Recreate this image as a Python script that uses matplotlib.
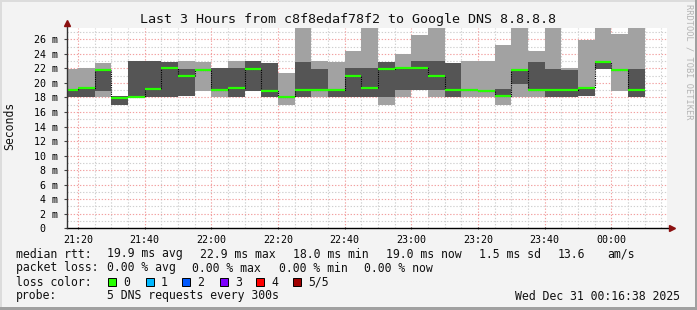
import matplotlib
matplotlib.use("Agg")
import matplotlib.pyplot as plt
from matplotlib.patches import Rectangle
from matplotlib.transforms import ScaledTranslation

plt.rcParams['font.family'] = ['DejaVu Sans Mono', 'DejaVu Sans']

# ---------------- data ----------------
title = "Last 3 Hours from c8f8edaf78f2 to Google DNS 8.8.8.8"
window = ("21:16:38", "00:16:38")
step_minutes = 5

slot_start = ["21:15", "21:20", "21:25", "21:30", "21:35", "21:40", "21:45",
              "21:50", "21:55", "22:00", "22:05", "22:10", "22:15", "22:20",
              "22:25", "22:30", "22:35", "22:40", "22:45", "22:50", "22:55",
              "23:00", "23:05", "23:10", "23:15", "23:20", "23:25", "23:30",
              "23:35", "23:40", "23:45", "23:50", "23:55", "00:00", "00:05"]

# sorted pings per slot (ms): lowest, 2nd, median, 4th, highest
ping_1 = [18.0, 18.1, 18.0, 17.0, 18.05, 18.0, 18.0, 18.15, 18.93, 18.0, 18.1, 18.95,
          18.0, 17.0, 18.1, 18.0, 18.0, 18.0, 18.0, 17.0, 18.0, 19.0, 18.0, 18.1,
          18.0, 18.0, 17.0, 18.0, 18.0, 18.0, 18.0, 18.2, 21.9, 18.9, 18.0]
ping_2 = [18.0, 18.1, 18.93, 17.0, 18.05, 18.0, 18.0, 18.25, 21.8, 19.0, 18.1, 18.95,
          18.0, 18.1, 18.1, 19.0, 18.0, 18.0, 18.0, 18.0, 19.0, 19.0, 19.0, 18.1,
          19.0, 18.85, 18.1, 19.9, 19.0, 18.0, 18.0, 18.2, 21.9, 21.8, 18.0]
ping_median = [19.0, 19.25, 21.8, 17.96, 18.1, 19.2, 22.0, 20.95, 21.8, 19.0, 19.25, 21.85,
               18.9, 18.1, 19.0, 19.0, 19.0, 20.9, 19.25, 21.95, 22.0, 22.0, 20.9, 19.0,
               19.0, 18.85, 18.2, 21.8, 19.0, 19.0, 19.0, 19.25, 22.9, 21.8, 19.0]
ping_4 = [19.0, 19.25, 21.8, 18.2, 23.0, 23.0, 22.9, 21.9, 21.8, 22.0, 22.0, 23.0,
          22.8, 18.1, 22.9, 21.85, 19.0, 22.0, 22.0, 22.9, 22.0, 23.0, 23.0, 22.8,
          19.0, 18.85, 19.1, 21.8, 22.9, 21.9, 21.8, 19.25, 22.9, 21.8, 21.9]
ping_5 = [21.9, 22.05, 22.8, 18.2, 23.0, 23.0, 22.9, 23.0, 22.87, 22.0, 23.0, 23.0,
          22.8, 21.4, 28.5, 23.0, 22.9, 24.4, 28.4, 22.9, 24.0, 26.6, 29.0, 22.8,
          23.0, 23.0, 25.2, 28.3, 24.4, 30.0, 22.1, 25.9, 28.0, 26.7, 28.6]

y_ticks = [0, 2, 4, 6, 8, 10, 12, 14, 16, 18, 20, 22, 24, 26]
y_tick_labels = ["0", "2 m", "4 m", "6 m", "8 m", "10 m", "12 m", "14 m",
                 "16 m", "18 m", "20 m", "22 m", "24 m", "26 m"]
y_max = 27.55
x_tick_labels = ["21:20", "21:40", "22:00", "22:20", "22:40",
                 "23:00", "23:20", "23:40", "00:00"]

legend_rows = [
    [("median rtt:", 16), ("19.9 ms avg", 107), ("22.9 ms max", 200), ("18.0 ms min", 293),
     ("19.0 ms now", 386), ("1.5 ms sd", 479), ("13.6", 558), ("am/s", 607)],
    [("packet loss:", 16), ("0.00 % avg", 107), ("0.00 % max", 192), ("0.00 % min", 279),
     ("0.00 % now", 364)],
]
loss_labels = ["0", "1", "2", "3", "4", "5/5"]
loss_colors = ["#26ff00", "#00b8ff", "#0059ff", "#7e00ff", "#ff0000", "#a00000"]
probe_text = "5 DNS requests every 300s"
stamp_text = "Wed Dec 31 00:16:38 2025"

# ---------------- helpers ----------------
def to_min(s):
    parts = [int(p) for p in s.split(":")]
    h, m = parts[0], parts[1]
    sec = parts[2] if len(parts) > 2 else 0
    if h < 12:
        h += 24
    return (h - 21) * 60 + m + sec / 60.0

W, H = 697, 310
fig = plt.figure(figsize=(W / 100, H / 100), dpi=100, facecolor="#f3f3f3")

ax_left, ax_right, ax_top, ax_bot = 66.7, 666.7, 28.0, 228.3
ax = fig.add_axes([ax_left / W, 1 - ax_bot / H, (ax_right - ax_left) / W, (ax_bot - ax_top) / H])
ax.set_facecolor("white")
x0, x1 = to_min(window[0]), to_min(window[1])
ax.set_xlim(x0, x1)
ax.set_ylim(0, y_max)

# grid
minor_c, major_c = "#cfcfcf", "#f2a0a0"
dash = (0, (1.2, 1.6))
xs_minor = []
m = int(x0 // 5 + 1) * 5
while m < x1:
    xs_minor.append(m)
    m += 5
x_major = [to_min(l) for l in x_tick_labels]
for xm in xs_minor:
    if xm in x_major:
        continue
    ax.axvline(xm, color=minor_c, lw=0.8, ls=dash, zorder=0)
for v in range(1, int(y_max) + 1):
    if v in y_ticks:
        continue
    ax.axhline(v, color=minor_c, lw=0.8, ls=dash, zorder=0)
for xm in x_major:
    ax.axvline(xm, color=major_c, lw=0.8, ls=dash, zorder=0.5)
for v in y_ticks[1:]:
    ax.axhline(v, color=major_c, lw=0.8, ls=dash, zorder=0.5)

# smoke
starts = [to_min(s) for s in slot_start]
ax.bar(starts, [b - a for a, b in zip(ping_1, ping_5)], bottom=ping_1, width=step_minutes,
       align="edge", color="#a2a2a2", linewidth=0, zorder=2)
ax.bar(starts, [b - a for a, b in zip(ping_2, ping_4)], bottom=ping_2, width=step_minutes,
       align="edge", color="#555555", linewidth=0, zorder=3)

# median: dotted step connector + green segments
edges = starts + [starts[-1] + step_minutes]
ax.step(edges, ping_median + [ping_median[-1]], where="post", color="black",
        lw=0.8, ls=(0, (1, 1)), zorder=4)
ax.hlines(ping_median, starts, [s + step_minutes for s in starts], color=loss_colors[0],
          lw=1.6, zorder=5)

# axes styling
for sp in ax.spines.values():
    sp.set_visible(False)
ax.set_yticks(y_ticks)
ax.set_yticklabels(y_tick_labels)
ax.set_xticks(x_major)
ax.set_xticklabels(x_tick_labels)
ax.tick_params(axis="y", length=2, width=0.8, color="#444444", pad=4.5, labelsize=7.2)
ax.tick_params(axis="x", length=2, width=0.8, color="#444444", pad=3.5, labelsize=7.2,
               direction="inout")
# align the bare "0" with the numbers of the other labels (they carry " m")
zero_lab = ax.get_yticklabels()[0]
zero_lab.set_transform(zero_lab.get_transform() +
                       ScaledTranslation(-12 / 100, 0, fig.dpi_scale_trans))

# axis lines with arrows
ax.plot([0, 1.006], [0, 0], transform=ax.transAxes, color="black", lw=1.0,
        clip_on=False, zorder=6)
ax.plot([0, 0], [0, 1.02], transform=ax.transAxes, color="#333333", lw=1.0,
        clip_on=False, zorder=6)
ax.plot([1.008], [0], transform=ax.transAxes, marker=">", color="#8b1010", ms=5,
        clip_on=False, zorder=7)
ax.plot([0], [1.025], transform=ax.transAxes, marker="^", color="#8b1010", ms=5,
        clip_on=False, zorder=7)

# texts
def ftext(x, y, s, **kw):
    fig.text(x / W, 1 - y / H, s, **kw)

ftext(348, 19, title, ha="center", va="center", fontsize=9.6, color="#111111")
ftext(10, 126, "Seconds", ha="center", va="center", rotation=90, fontsize=8.3,
      color="#111111")
ftext(688.5, 4, "RRDTOOL / TOBI OETIKER", ha="center", va="top", rotation=270,
      fontsize=6.2, color="#b4b4b4")

row_y = [254, 268, 282, 296]
for row, yy in zip(legend_rows, row_y[:2]):
    for s, xx in row:
        ftext(xx, yy, s, ha="left", va="center", fontsize=8.3, color="#111111")

ftext(16, row_y[2], "loss color:", ha="left", va="center", fontsize=8.3, color="#111111")
box_x = [108.4, 145.8, 182.2, 219.6, 256.4, 293.3]
for bx, lab, col in zip(box_x, loss_labels, loss_colors):
    fig.patches.append(Rectangle((bx / W, 1 - (row_y[2] + 4) / H), 8 / W, 8 / H,
                                 transform=fig.transFigure, facecolor=col,
                                 edgecolor="black", lw=0.7))
    ftext(bx + 15.2, row_y[2], lab, ha="left", va="center", fontsize=8.3, color="#111111")

ftext(16, row_y[3], "probe:", ha="left", va="center", fontsize=8.3, color="#111111")
ftext(107, row_y[3], probe_text, ha="left", va="center", fontsize=8.3, color="#111111")
ftext(680, row_y[3], stamp_text, ha="right", va="center", fontsize=8.3, color="#111111")

# 3D-ish frame
fig.patches.append(Rectangle((0, 1 - 2 / H), 1, 2 / H, transform=fig.transFigure,
                             facecolor="#dcdcdc", lw=0))
fig.patches.append(Rectangle((0, 0), 2 / W, 1, transform=fig.transFigure,
                             facecolor="#dcdcdc", lw=0))
fig.patches.append(Rectangle((0, 0), 1, 3 / H, transform=fig.transFigure,
                             facecolor="#a0a0a0", lw=0))
fig.patches.append(Rectangle((1 - 2 / W, 0), 2 / W, 1, transform=fig.transFigure,
                             facecolor="#a0a0a0", lw=0))

fig.savefig("out.png", dpi=100, facecolor=fig.get_facecolor())
